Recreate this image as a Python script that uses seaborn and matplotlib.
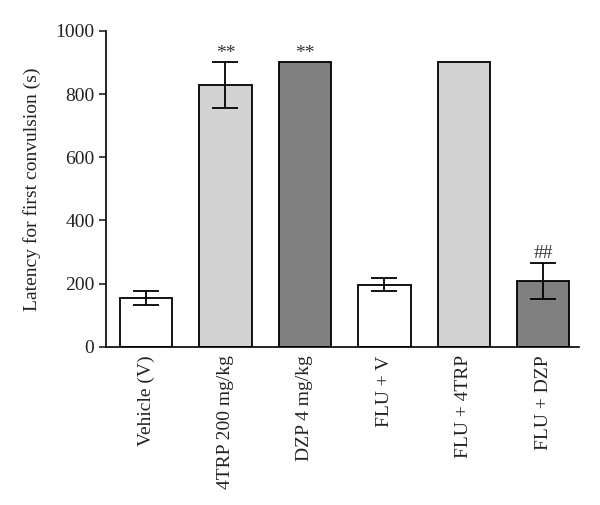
import pandas as pd
import matplotlib.pyplot as plt
import seaborn as sns

# data
groups = ['Vehicle (V)', '4TRP 200 mg/kg', 'DZP 4 mg/kg', 'FLU + V', 'FLU + 4TRP', 'FLU + DZP']
latency = [155, 828, 900, 197, 900, 209]
sem = [22, 72, 0, 20, 0, 57]
marks = ['', '**', '**', '', '', '##']
colors = ['white', '#d3d3d3', '#808080', 'white', '#d3d3d3', '#808080']

df = pd.DataFrame({'Group': groups, 'Latency': latency})

sns.set_style('ticks')
plt.rcParams['font.family'] = ['Liberation Serif', 'DejaVu Serif']

fig = plt.figure(figsize=(6, 5.05), dpi=100)
ax = fig.add_axes([0.177, 0.313, 0.788, 0.626])
sns.barplot(data=df, x='Group', y='Latency', hue='Group', palette=colors, legend=False,
            width=0.66, edgecolor='black', linewidth=1.3, ax=ax, zorder=2)

# error bars (only where there is spread)
for i, (m, e) in enumerate(zip(latency, sem)):
    if e > 0:
        ax.errorbar(i, m, yerr=e, fmt='none', ecolor='black', elinewidth=1.3,
                    capsize=9.5, capthick=1.3, zorder=3)
    if marks[i]:
        ax.text(i, m + e + 2, marks[i], ha='center', va='bottom', fontsize=14, color='#333333')

ax.set_ylim(0, 1000)
ax.set_xlim(-0.5, 5.45)
ax.set_yticks([0, 200, 400, 600, 800, 1000])
ax.tick_params(axis='y', labelsize=14, length=5, width=1.2, colors='#222222')
ax.tick_params(axis='x', labelsize=14, length=0, rotation=90, pad=6, colors='#222222')
ax.set_xlabel('')
ax.set_ylabel('Latency for first convulsion (s)', fontsize=14, labelpad=10, color='#222222')
for s in ['left', 'bottom']:
    ax.spines[s].set_linewidth(1.2)
    ax.spines[s].set_color('black')
ax.spines['top'].set_visible(False)
ax.spines['right'].set_visible(False)

plt.savefig('out.png', dpi=100)
